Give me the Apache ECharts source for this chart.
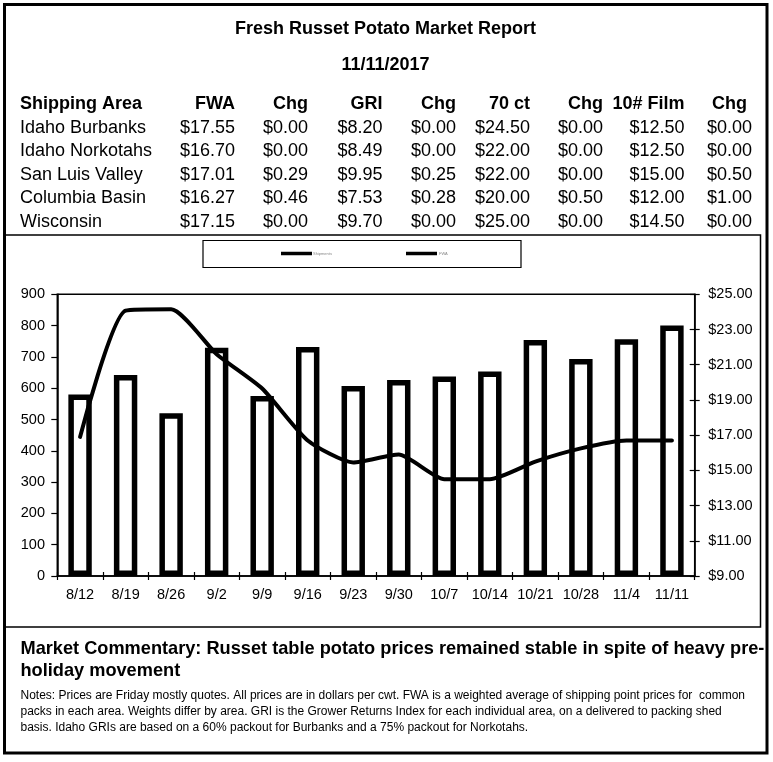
<!DOCTYPE html>
<html>
<head>
<meta charset="utf-8">
<script src="https://cdn.jsdelivr.net/npm/echarts@6/dist/echarts.min.js"></script>
<style>
html,body{margin:0;padding:0;background:#fff;}
#chart{width:773px;height:762px;}
</style>
</head>
<body>
<div id="chart"></div>
<script>
// ---------- data ----------
const reportTitle = 'Fresh Russet Potato Market Report';
const reportDate = '11/11/2017';
const tableHeaders = ['Shipping Area', 'FWA', 'Chg', 'GRI', 'Chg', '70 ct', 'Chg', '10# Film', 'Chg'];
const areas = ['Idaho Burbanks', 'Idaho Norkotahs', 'San Luis Valley', 'Columbia Basin', 'Wisconsin'];
const fwa = ['$17.55', '$16.70', '$17.01', '$16.27', '$17.15'];
const fwaChg = ['$0.00', '$0.00', '$0.29', '$0.46', '$0.00'];
const gri = ['$8.20', '$8.49', '$9.95', '$7.53', '$9.70'];
const griChg = ['$0.00', '$0.00', '$0.25', '$0.28', '$0.00'];
const ct70 = ['$24.50', '$22.00', '$22.00', '$20.00', '$25.00'];
const ct70Chg = ['$0.00', '$0.00', '$0.00', '$0.50', '$0.00'];
const film10 = ['$12.50', '$12.50', '$15.00', '$12.00', '$14.50'];
const film10Chg = ['$0.00', '$0.00', '$0.50', '$1.00', '$0.00'];

const weeks = ['8/12', '8/19', '8/26', '9/2', '9/9', '9/16', '9/23', '9/30', '10/7', '10/14', '10/21', '10/28', '11/4', '11/11'];
const shipments = [580, 642, 520, 729, 575, 732, 607, 626, 637, 653, 754, 693, 756, 800];
const fwaPrice = [16.9, 24.07, 24.15, 21.6, 19.65, 16.7, 15.45, 15.9, 14.5, 14.5, 15.5, 16.25, 16.7, 16.7];
const volumeTicks = [0, 900, 100];
const priceTicks = [9, 25, 2];

const commentaryLines = ['Market Commentary: Russet table potato prices remained stable in spite of heavy pre-', 'holiday movement'];
const notesLines = [
  'Notes: Prices are Friday mostly quotes. All prices are in dollars per cwt. FWA is a weighted average of shipping point prices for  common',
  'packs in each area. Weights differ by area. GRI is the Grower Returns Index for each individual area, on a delivered to packing shed',
  'basis. Idaho GRIs are based on a 60% packout for Burbanks and a 75% packout for Norkotahs.'
];

// ---------- layout ----------
const FONT = "'Liberation Sans', Arial, sans-serif";
const headerRight = [null, 235, 308, 382.5, 456, 530, 603, 684.5, 747];
const valueRight = [null, 235, 308, 382.5, 456, 530, 603, 684.5, 752];
const columns = [areas, fwa, fwaChg, gri, griChg, ct70, ct70Chg, film10, film10Chg];

function txt(text, x, y, size, weight, align) {
  return {
    type: 'text', silent: true,
    style: {
      text: text, x: x, y: y,
      fill: '#000',
      font: (weight || 'normal') + ' ' + size + 'px ' + FONT,
      align: align || 'left', verticalAlign: 'middle',
      textAlign: align || 'left', textVerticalAlign: 'middle'
    }
  };
}

const graphics = [];
graphics.push({type: 'rect', silent: true, shape: {x: 4.5, y: 4.5, width: 762.5, height: 748.5},
  style: {fill: 'none', stroke: '#000', lineWidth: 3}});
graphics.push({type: 'rect', silent: true, shape: {x: 4.5, y: 235, width: 756, height: 392},
  style: {fill: 'none', stroke: '#000', lineWidth: 1.5}});
graphics.push({type: 'rect', silent: true, shape: {x: 203, y: 240.5, width: 318, height: 27},
  style: {fill: 'none', stroke: '#000', lineWidth: 1.2}});
graphics.push(txt(reportTitle, 385.5, 29.5, 18, 'bold', 'center'));
graphics.push(txt(reportDate, 385.5, 65, 18, 'bold', 'center'));
const rowY0 = 104, rowStep = 23.6;
tableHeaders.forEach(function (h, c) {
  if (c === 0) graphics.push(txt(h, 20, rowY0, 18, 'bold', 'left'));
  else graphics.push(txt(h, headerRight[c], rowY0, 18, 'bold', 'right'));
});
areas.forEach(function (a, r) {
  const y = rowY0 + (r + 1) * rowStep;
  columns.forEach(function (col, c) {
    if (c === 0) graphics.push(txt(col[r], 20, y, 18, 'normal', 'left'));
    else graphics.push(txt(col[r], valueRight[c], y, 18, 'normal', 'right'));
  });
});
commentaryLines.forEach(function (l, i) {
  graphics.push(txt(l, 20.5, 649 + i * 22, 18.2, 'bold', 'left'));
});
notesLines.forEach(function (l, i) {
  graphics.push(txt(l, 20.5, 696 + i * 16, 12, 'normal', 'left'));
});

const axisLabelStyle = {color: '#000', fontSize: 14.5, fontFamily: FONT};
const chart = echarts.init(document.getElementById('chart'), null, {renderer: 'canvas'});
chart.setOption({
  animation: false,
  backgroundColor: '#fff',
  textStyle: {fontFamily: FONT},
  grid: {left: 57.3, right: 78.3, top: 294.3, bottom: 186, show: true,
    borderColor: '#000', borderWidth: 1.5, backgroundColor: 'transparent'},
  legend: [
    {data: [{name: 'Shipments', icon: 'rect', itemStyle: {color: '#000', borderWidth: 0}}],
      left: 281, top: 251.5, padding: 0, itemWidth: 31, itemHeight: 3.5, itemGap: 0,
      textStyle: {fontSize: 4, color: '#888', padding: [0, 0, 0, -4]}, selectedMode: false},
    {data: [{name: 'FWA', icon: 'rect', itemStyle: {color: '#000', borderWidth: 0}}],
      left: 406, top: 251.5, padding: 0, itemWidth: 31, itemHeight: 3.5, itemGap: 0,
      textStyle: {fontSize: 4, color: '#888', padding: [0, 0, 0, -3]}, selectedMode: false}
  ],
  xAxis: [
    {type: 'category', data: weeks, position: 'bottom', boundaryGap: true,
      axisLine: {lineStyle: {color: '#000', width: 1.5}},
      axisTick: {show: true, length: 4, lineStyle: {color: '#000', width: 1.2}, alignWithLabel: false},
      axisLabel: Object.assign({margin: 11, interval: 0}, axisLabelStyle),
      splitLine: {show: false}},
    {type: 'category', data: weeks, position: 'bottom', boundaryGap: true,
      axisLine: {show: false},
      axisTick: {show: true, inside: true, length: 4, lineStyle: {color: '#000', width: 1.2}},
      axisLabel: {show: false}, splitLine: {show: false}}
  ],
  yAxis: [
    {type: 'value', position: 'left', min: volumeTicks[0], max: volumeTicks[1], interval: volumeTicks[2],
      axisLine: {show: true, lineStyle: {color: '#000', width: 1.5}},
      axisTick: {show: true, length: 6, lineStyle: {color: '#000', width: 1.2}},
      axisLabel: Object.assign({margin: 12.3}, axisLabelStyle),
      splitLine: {show: false}},
    {type: 'value', position: 'right', min: priceTicks[0], max: priceTicks[1], interval: priceTicks[2],
      axisLine: {show: true, lineStyle: {color: '#000', width: 1.5}},
      axisTick: {show: true, length: 5, lineStyle: {color: '#000', width: 1.2}},
      axisLabel: Object.assign({margin: 13.6, formatter: function (v) { return '$' + v.toFixed(2); }}, axisLabelStyle),
      splitLine: {show: false}},
    {type: 'value', position: 'right', min: priceTicks[0], max: priceTicks[1], interval: priceTicks[2],
      axisLine: {show: false},
      axisTick: {show: true, inside: true, length: 5, lineStyle: {color: '#000', width: 1.2}},
      axisLabel: {show: false}, splitLine: {show: false}}
  ],
  series: [
    {name: 'Shipments', type: 'bar', data: shipments, xAxisIndex: 0, yAxisIndex: 0, barWidth: 23.4,
      itemStyle: {color: '#fff', borderColor: '#000', borderWidth: 5.5}, z: 2, silent: true},
    {name: 'FWA', type: 'line', data: fwaPrice, xAxisIndex: 0, yAxisIndex: 1, smooth: 0.2,
      symbol: 'none', lineStyle: {color: '#000', width: 4, cap: 'round', join: 'round'},
      itemStyle: {color: '#000'}, z: 3, silent: true}
  ],
  graphic: graphics
});
</script>
</body>
</html>
